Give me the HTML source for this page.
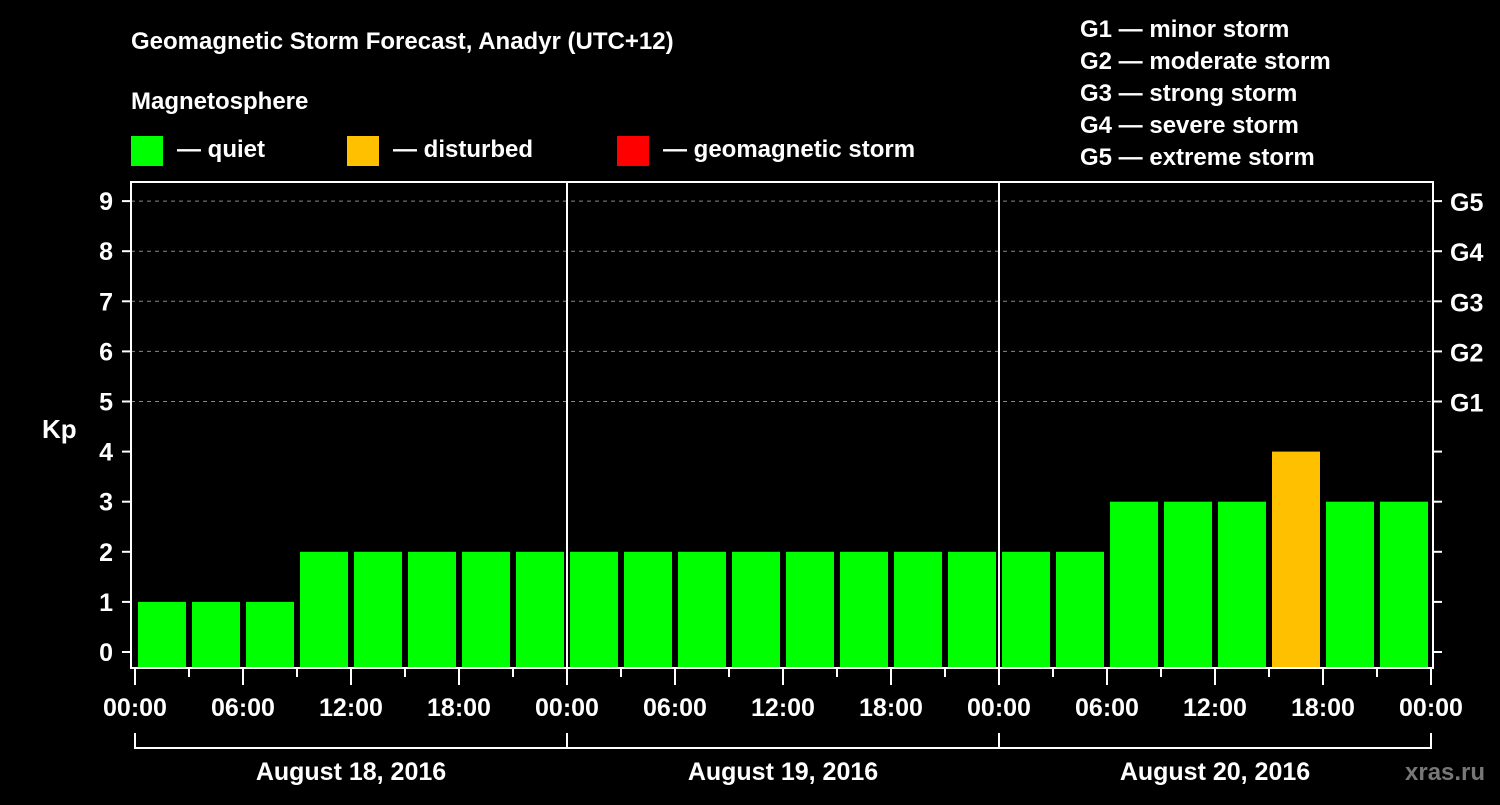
<!DOCTYPE html>
<html><head><meta charset="utf-8"><style>
body{margin:0;background:#000;width:1500px;height:800px;overflow:hidden}
svg text{font-family:"Liberation Sans",sans-serif;font-weight:bold;fill:#fff}
</style></head><body>
<svg id="c" width="1500" height="800">
<text x="131" y="49" font-size="24">Geomagnetic Storm Forecast, Anadyr (UTC+12)</text>
<text x="131" y="109" font-size="24">Magnetosphere</text>
<g><rect x="131" y="136" width="32" height="30" fill="#00ff00"/><text x="177" y="157" font-size="24">— quiet</text></g>
<g><rect x="347" y="136" width="32" height="30" fill="#ffc000"/><text x="393" y="157" font-size="24">— disturbed</text></g>
<g><rect x="617" y="136" width="32" height="30" fill="#ff0000"/><text x="663" y="157" font-size="24">— geomagnetic storm</text></g>
<g font-size="24">
<text x="1080" y="37">G1 — minor storm</text><text x="1080" y="69">G2 — moderate storm</text><text x="1080" y="101">G3 — strong storm</text><text x="1080" y="133">G4 — severe storm</text><text x="1080" y="165">G5 — extreme storm</text>
</g>
<text x="42" y="438" font-size="26">Kp</text>
<text x="1405" y="780" font-size="24" fill="#888" style="fill:#777">xras.ru</text>
<g id="g"></g>
</svg>
<script>
const kpValues=[1,1,1,2,2,2,2,2, 2,2,2,2,2,2,2,2, 2,2,3,3,3,4,3,3];
const yTicks=[0,1,2,3,4,5,6,7,8,9];
const gLabels=["G1","G2","G3","G4","G5"];
const hourLabels=["00:00","06:00","12:00","18:00"];
const dayLabels=["August 18, 2016","August 19, 2016","August 20, 2016"];
const NS="http://www.w3.org/2000/svg";
const g=document.getElementById('g');
function y(v){return 652-v*50.1;}
function x(i){return 135+i*54;} // i in 3-hour slots
function el(t,a,txt){const e=document.createElementNS(NS,t);for(const k in a)e.setAttribute(k,a[k]);if(txt!=null)e.textContent=txt;g.appendChild(e);return e;}
yTicks.forEach(v=>{
 if(v>=5){const l=el('line',{x1:131,x2:1433,y1:y(v),y2:y(v),stroke:'#888','stroke-dasharray':'4,4','stroke-width':1});
 
 }
 const t=el('line',{x1:122,x2:131,y1:y(v),y2:y(v),stroke:'#fff','stroke-width':2});
 
 
 const t2=el('line',{x1:1433,x2:1442,y1:y(v),y2:y(v),stroke:'#fff','stroke-width':2});
 
 
 const tx=el('text',{x:113,y:y(v)+9,'font-size':25,'text-anchor':'end'},v);
 
 
});
gLabels.forEach((s,i)=>{const tx=el('text',{x:1450,y:y(5+i)+10,'font-size':25},s);
 
 });
kpValues.forEach((v,i)=>{
 const r=el('rect',{x:x(i)+3,y:y(v),width:48,height:667-y(v),fill:v>=5?'#ff0000':(v>=4?'#ffc000':'#00ff00')});
 
 
});
for(let d=1;d<3;d++){const l=el('line',{x1:x(d*8),x2:x(d*8),y1:182,y2:668,stroke:'#fff','stroke-width':2});
 
 }
const fr=el('path',{d:'M131,182 V668 H1433 V182 Z',fill:'none',stroke:'#fff','stroke-width':2});


for(let i=0;i<=24;i++){
 const major=i%2==0;
 const t=el('line',{x1:x(i),x2:x(i),y1:668,y2:major?685:677,stroke:'#fff','stroke-width':2});
 
 
 if(major){const tx=el('text',{x:x(i),y:716,'font-size':25,'text-anchor':'middle'},hourLabels[(i/2)%4]);
 
 }
}
dayLabels.forEach((s,d)=>{
 const p=el('path',{d:`M${x(d*8)},733 V748 H${x(d*8+8)} V733`,fill:'none',stroke:'#fff','stroke-width':2});
 
 
 const tx=el('text',{x:x(d*8+4),y:780,'font-size':25,'text-anchor':'middle'},s);
 
 
});
</script>
</body></html>
